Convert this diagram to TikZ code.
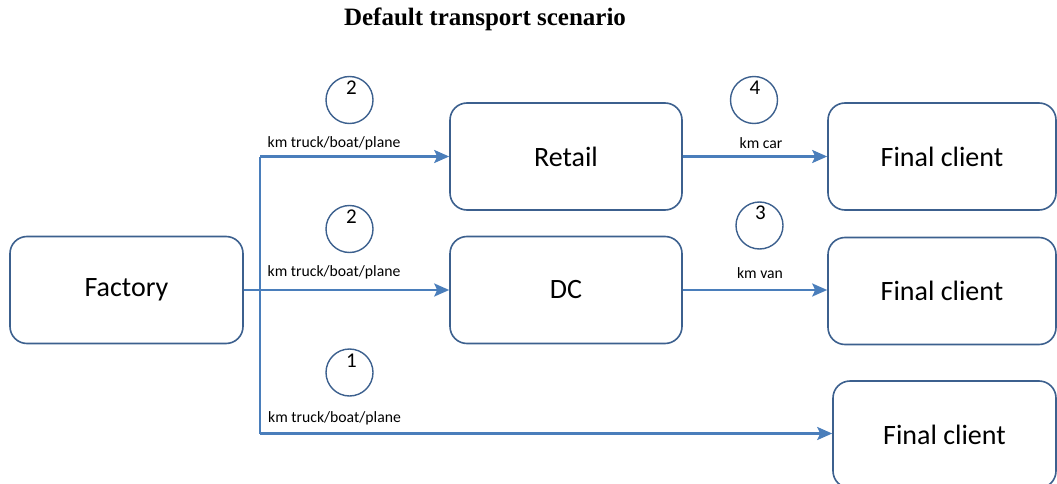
\documentclass[tikz,border=0pt]{standalone}
\usepackage{fontspec}
\setmainfont{Carlito}
\newfontfamily\titlefont{Liberation Serif}
\usetikzlibrary{arrows.meta}
\definecolor{flow}{RGB}{74,126,187}
\definecolor{edge}{RGB}{60,96,142}
\tikzset{
  box/.style={draw=edge, line width=1.6pt, rounded corners=17pt, fill=white,
    minimum height=107pt, inner sep=0pt, font=\fontsize{28}{30}\selectfont},
  hop/.style={draw=edge, line width=1.4pt, circle, minimum size=47pt, inner sep=0pt},
  num/.style={font=\fontsize{21}{22}\selectfont, inner sep=0pt},
  km/.style={font=\fontsize{15.7}{17}\selectfont, inner sep=0pt},
  link/.style={draw=flow, line width=2.3pt},
  arrowlink/.style={link, -{Stealth[length=15pt, width=13pt, inset=3pt]}}
}
\begin{document}
\begin{tikzpicture}[x=1pt, y=-1pt]
  \useasboundingbox (0,0) rectangle (1057,484);

  % title
  \node[font=\titlefont\bfseries\fontsize{25}{27}\selectfont, inner sep=0pt]
    (title) at (485,19.5) {Default transport scenario};

  % sites
  \node[box, minimum width=233pt] (factory) at (126.5,290) {Factory};
  \node[box, minimum width=232pt] (retail)  at (566,156.5) {Retail};
  \node[box, minimum width=232pt] (dc)      at (566,290)   {DC};
  \node[box, minimum width=228pt] (fc1)     at (942,156.5) {Final client};
  \node[box, minimum width=228pt] (fc2)     at (942,291)   {Final client};
  \node[box, minimum width=223pt] (fc3)     at (944.5,434.5) {Final client};

  % branching trunk from the factory
  \coordinate (top) at (260,156.5);
  \coordinate (bot) at (260,433.5);
  \draw[link] (top) -- (bot);
  \draw[arrowlink] (factory.east) -- (dc.west);
  \draw[arrowlink] (top) -- (retail.west);
  \draw[arrowlink] (bot) -- (bot -| fc3.west);
  \draw[arrowlink] (retail.east) -- (retail.east -| fc1.west);
  \draw[arrowlink] (dc.east) -- (dc.east -| fc2.west);

  % distance labels
  \node[km] (l1) at (334,143) {km truck/boat/plane};
  \node[km] (l2) at (334,272) {km truck/boat/plane};
  \node[km] (l3) at (334.5,418) {km truck/boat/plane};
  \node[km] (l4) at (761,143) {km car};
  \node[km] (l5) at (760,273) {km van};

  % numbered markers
  \node[hop] (c1) at (349.5,100)   {};
  \node[hop] (c2) at (349.5,229)   {};
  \node[hop] (c3) at (349.5,372.5) {};
  \node[hop] (c4) at (754,100)     {};
  \node[hop] (c5) at (759.5,225.5) {};
  \node[num] (n1) at ([xshift=2pt, yshift=12pt]c1.center) {2};
  \node[num] (n2) at ([xshift=2pt, yshift=12.5pt]c2.center) {2};
  \node[num] (n3) at ([xshift=2pt, yshift=12pt]c3.center) {1};
  \node[num] (n4) at ([xshift=1pt, yshift=12pt]c4.center) {4};
  \node[num] (n5) at ([xshift=1pt, yshift=12.5pt]c5.center) {3};
\end{tikzpicture}
\end{document}
